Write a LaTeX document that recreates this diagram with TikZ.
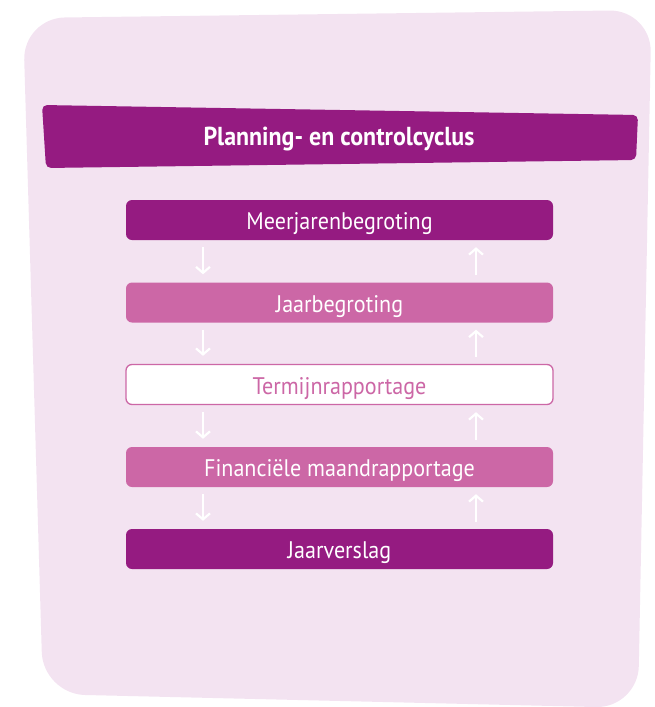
\documentclass[tikz,border=0pt]{standalone}
\usepackage{fontspec}
\setmainfont[FakeStretch=0.92]{PT Sans}
\usetikzlibrary{arrows.meta}
\definecolor{bgpink}{RGB}{243,227,241}
\definecolor{darkpurple}{RGB}{149,27,129}
\definecolor{midpink}{RGB}{204,103,166}
\tikzset{
  boxbase/.style={rectangle, rounded corners=6pt, minimum width=427pt, minimum height=40pt, inner sep=0pt,
    font=\fontsize{24}{24}\selectfont, text height=19pt, text depth=0pt},
  darkbox/.style={boxbase, fill=darkpurple, text=white},
  midbox/.style={boxbase, fill=midpink, text=white},
  whitebox/.style={boxbase, fill=white, draw=midpink, line width=1.3pt, text=midpink},
  arr/.style={white, line width=2.2pt, -{Straight Barb[length=6pt,width=14pt,line width=2.2pt]}},
}
\begin{document}
\begin{tikzpicture}[x=1pt,y=-1pt]
\useasboundingbox (0,0) rectangle (655,707);
\begin{scope}
\clip (0,0) rectangle (655,707);
\fill[bgpink, rounded corners=42pt] (23,18) -- (651.5,10) -- (638,708) -- (43,694) -- cycle;
\end{scope}
\fill[darkpurple, rounded corners=5pt] (42,105) -- (638,115) -- (636,160) -- (46,168) -- cycle;
\node[text=white, font=\bfseries\fontsize{26}{26}\selectfont, text height=18pt, text depth=0pt, inner sep=0pt] (title) at (339,136) {Planning- en controlcyclus};
\node[darkbox] (m) at (339.5,220) {Meerjarenbegroting};
\node[midbox] (j) at (339.5,302.5) {Jaarbegroting};
\node[whitebox] (t) at (339.5,384.5) {Termijnrapportage};
\node[midbox] (f) at (339.5,467) {Financiële maandrapportage};
\node[darkbox] (v) at (339.5,549) {Jaarverslag};
\foreach \a/\b in {m/j, j/t, t/f, f/v}{
  \draw[arr] ([xshift=-136.5pt,yshift=-7pt]\a.south) -- ([xshift=-136.5pt,yshift=8pt]\b.north);
  \draw[arr] ([xshift=136.5pt,yshift=7pt]\b.north) -- ([xshift=136.5pt,yshift=-7pt]\a.south);
}
\end{tikzpicture}
\end{document}
